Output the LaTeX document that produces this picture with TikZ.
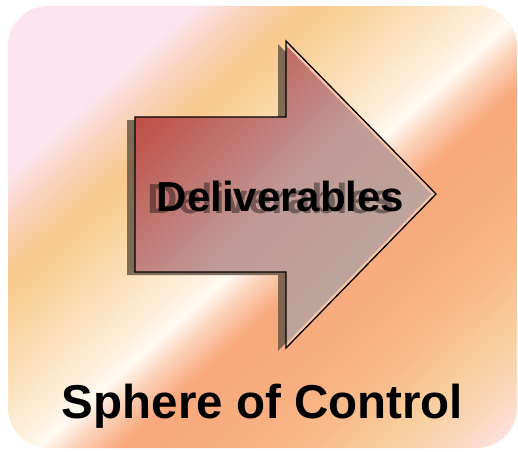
\documentclass[tikz,border=0pt]{standalone}
\usepackage{fontspec}
\setmainfont{Liberation Sans}
\usepackage{tikz}

\definecolor{bgpink}{HTML}{FCE4F0}
\definecolor{bgmix}{HTML}{FAD4C0}
\definecolor{bgorange}{HTML}{F8C88C}
\definecolor{bgcream}{HTML}{F9D4A0}
\definecolor{bglight}{HTML}{FCE4C4}
\definecolor{bgivory}{HTML}{FEF0DC}
\definecolor{bgwhite}{HTML}{FFFAF3}
\definecolor{bgblush}{HTML}{FCD6C0}
\definecolor{bgsalmon}{HTML}{F8A87C}
\definecolor{bgsalmonb}{HTML}{F8AE80}
\definecolor{bgapricot}{HTML}{F8BC8C}
\definecolor{bgpeach}{HTML}{F9CFA0}
\definecolor{bgpale}{HTML}{FAD6B8}
\definecolor{bgend}{HTML}{FCE0DA}
\definecolor{arrowred}{HTML}{C0524A}
\definecolor{arrowmid}{HTML}{C09A98}
\definecolor{arrowtan}{HTML}{BCA89E}
\definecolor{arrowshade}{HTML}{6B5846}
\definecolor{bevel}{HTML}{F9C4A4}

\pgfdeclareverticalshading{spherebg}{100bp}{color(0bp)=(bgend); color(26.7bp)=(bgend);
	color(29.3bp)=(bgpale); color(32bp)=(bgpeach); color(35.5bp)=(bgapricot);
	color(40bp)=(bgsalmonb); color(45bp)=(bgsalmon); color(47.5bp)=(bgblush);
	color(49bp)=(bgwhite); color(50.5bp)=(bgivory); color(53bp)=(bglight);
	color(57bp)=(bgcream); color(59.7bp)=(bgorange); color(63bp)=(bgmix);
	color(65.5bp)=(bgpink); color(100bp)=(bgpink)}

\begin{document}
\begin{tikzpicture}[x=1pt, y=-1pt]
	
	\useasboundingbox (0,0) rectangle (518,451);
	
	% background
	\begin{scope}
		\clip[rounded corners=40] (8,6) rectangle (517,448);
		\begin{scope}[transform canvas={rotate around={42:(262.5,227)}}]
			\shade[shading=spherebg] (-137.5,-113) rectangle (662.5,567);
		\end{scope}
	\end{scope}
	
	% arrow corners
	\coordinate (a) at (135,117);
	\coordinate (b) at (286,117);
	\coordinate (c) at (286,41);
	\coordinate (d) at (436,194);
	\coordinate (e) at (286,348);
	\coordinate (f) at (286,272);
	\coordinate (g) at (135,272);
	
	\fill[arrowshade, opacity=.85, transform canvas={shift={(-8,3)}}] (a) -- (b) -- (c) -- (d) -- (e) -- (f) -- (g) -- cycle;
	\shade[top color=arrowred, bottom color=arrowtan, middle color=arrowmid, shading angle=45]
		(a) -- (b) -- (c) -- (d) -- (e) -- (f) -- (g) -- cycle;
	\begin{scope}
		\clip (a) -- (b) -- (c) -- (d) -- (e) -- (f) -- (g) -- cycle;
		\draw[bevel, line width=6pt] (c) -- (d) -- (e);
	\end{scope}
	\draw[black, line width=1.3pt] (a) -- (b) -- (c) -- (d) -- (e) -- (f) -- (g) -- cycle;
	
	\node[anchor=base, inner sep=0, text=black, text opacity=.4, font=\bfseries\fontsize{42}{50}\selectfont] (delivshadow) at (271.5,213) {Deliverables};
	\node[anchor=base, inner sep=0, font=\bfseries\fontsize{42}{50}\selectfont] (deliv) at (280.5,211) {Deliverables};
	
	\node[anchor=base, inner sep=0, font=\bfseries\fontsize{47.5}{56}\selectfont] (sphere) at (262.5,418) {Sphere of Control};
	
\end{tikzpicture}
\end{document}
